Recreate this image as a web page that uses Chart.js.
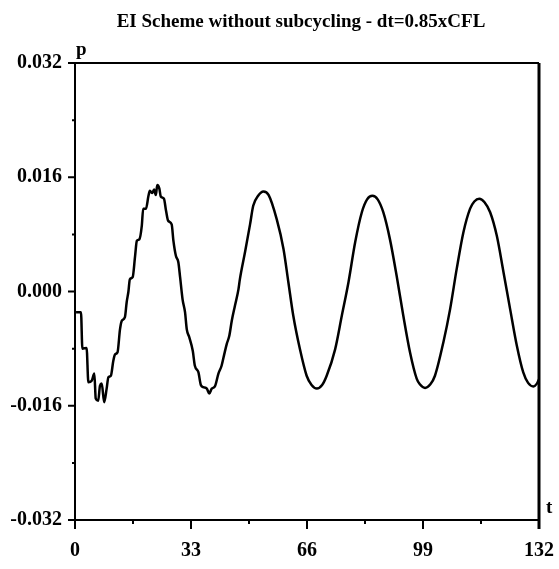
<!DOCTYPE html>
<html><head><meta charset="utf-8">
<script src="https://cdn.jsdelivr.net/npm/chart.js@4/dist/chart.umd.min.js"></script>
<style>html,body{margin:0;padding:0;background:#fff}#wrap{width:559px;height:569px;position:relative}</style>
</head><body><div id="wrap"><canvas id="c" width="559" height="569"></canvas></div>
<script>
const chartTitle = 'EI Scheme without subcycling - dt=0.85xCFL';
const xAxisName = 't';
const yAxisName = 'p';
const xTickLabels = [0, 33, 66, 99, 132];
const yTickLabels = [-0.032, -0.016, 0.000, 0.016, 0.032];
const xMinorTicks = [16.5, 49.5, 82.5, 115.5];
const yMinorTicks = [-0.024, -0.008, 0.008, 0.024];

const tValues = [
  0.3, 1.7, 2.1, 3.3, 3.8, 4.75, 5.5, 5.9, 6.6, 7.1, 7.6, 8.3, 9.0, 9.5, 10.2, 10.9, 11.4, 12.1, 12.8, 13.3,
  14.2, 14.7, 15.2, 15.6, 16.4, 17.1, 17.6, 18.3, 19.0, 19.4, 20.2, 20.9, 21.3, 22.0, 22.5, 23.0, 23.4, 24.0,
  24.4, 25.3, 25.9, 26.5, 27.5, 28.0, 28.7, 29.4, 29.9, 30.6, 31.3, 31.8, 32.5, 33.5, 34.1, 35.1, 35.8, 36.5,
  37.5, 38.2, 38.9, 39.8, 40.8, 41.7, 42.5, 43.2, 43.9, 44.6, 45.5, 46.5, 46.9, 48.4, 49.8, 50.7, 52.1, 53.6,
  55.1, 57.4, 59.3, 60.7, 62.1, 64.0, 65.9, 67.3, 68.8, 70.3, 71.6, 74.0, 75.9, 77.8, 79.7, 81.6, 83.1, 84.6,
  86.1, 87.7, 89.6, 91.5, 93.4, 95.3, 97.2, 98.1, 99.6, 101.1, 102.4, 104.8, 106.7, 108.6, 110.5, 112.4, 113.6,
  115.0, 116.5, 118.1, 120.0, 121.9, 123.8, 125.7, 127.5, 128.9, 130.4, 131.4, 132.0
];
const pValues = [
  -0.0029, -0.0029, -0.0080, -0.0079, -0.0127, -0.0125, -0.0115, -0.0150, -0.0153, -0.0132, -0.0129, -0.0155,
  -0.0136, -0.0120, -0.0118, -0.0097, -0.0088, -0.0085, -0.0053, -0.0041, -0.0036, -0.0015, 0.0000, 0.0017,
  0.0020, 0.0050, 0.0071, 0.0073, 0.0092, 0.0116, 0.0116, 0.0134, 0.0141, 0.0138, 0.0143, 0.0135, 0.0149,
  0.0144, 0.0133, 0.0130, 0.0113, 0.0099, 0.0094, 0.0071, 0.0050, 0.0041, 0.0020, -0.0011, -0.0029, -0.0053,
  -0.0064, -0.0083, -0.0104, -0.0113, -0.0131, -0.0134, -0.0136, -0.0143, -0.0136, -0.0133, -0.0115, -0.0104,
  -0.0087, -0.0073, -0.0062, -0.0041, -0.0020, 0.0003, 0.0017, 0.0056, 0.0094, 0.0120, 0.0134, 0.0140,
  0.0135, 0.0101, 0.0060, 0.0013, -0.0034, -0.0081, -0.0118, -0.0131, -0.0136, -0.0131, -0.0118, -0.0081,
  -0.0034, 0.0013, 0.0069, 0.0111, 0.0129, 0.0134, 0.0129, 0.0111, 0.0073, 0.0022, -0.0034, -0.0085,
  -0.0122, -0.0130, -0.0135, -0.0130, -0.0118, -0.0071, -0.0025, 0.0032, 0.0083, 0.0116, 0.0126, 0.0130,
  0.0125, 0.0111, 0.0078, 0.0027, -0.0025, -0.0076, -0.0113, -0.0128, -0.0133, -0.0129, -0.0123
];

const points = tValues.map((t, i) => ({ x: t, y: pValues[i] }));
const labelFont = { family: 'Liberation Serif', size: 20, weight: 'bold' };

const framePlugin = {
  id: 'frame',
  afterDraw(chart) {
    const ctx = chart.ctx;
    const a = chart.chartArea;
    const xs = chart.scales.x, ys = chart.scales.y;
    ctx.save();
    ctx.strokeStyle = '#000';
    ctx.lineCap = 'butt';
    ctx.lineWidth = 2;
    ctx.beginPath();
    ctx.moveTo(a.left, a.top); ctx.lineTo(a.left, a.bottom + 1);
    ctx.moveTo(a.left - 1, a.bottom); ctx.lineTo(a.right, a.bottom);
    ctx.moveTo(a.left - 7, a.top); ctx.lineTo(a.right, a.top);
    ctx.stroke();
    ctx.lineWidth = 3;
    ctx.beginPath();
    ctx.moveTo(a.right, a.top); ctx.lineTo(a.right, a.bottom + 9);
    ctx.stroke();
    ctx.lineWidth = 2;
    ctx.beginPath();
    xTickLabels.forEach(v => { const px = xs.getPixelForValue(v); ctx.moveTo(px, a.bottom); ctx.lineTo(px, a.bottom + 9); });
    xMinorTicks.forEach(v => { const px = xs.getPixelForValue(v); ctx.moveTo(px, a.bottom); ctx.lineTo(px, a.bottom + 4); });
    yTickLabels.forEach(v => { const py = ys.getPixelForValue(v); ctx.moveTo(a.left - 7, py); ctx.lineTo(a.left, py); });
    yMinorTicks.forEach(v => { const py = ys.getPixelForValue(v); ctx.moveTo(a.left - 3, py); ctx.lineTo(a.left, py); });
    ctx.stroke();
    ctx.fillStyle = '#000';
    ctx.font = 'bold 19px "Liberation Serif"';
    ctx.textAlign = 'center';
    ctx.textBaseline = 'alphabetic';
    ctx.fillText(chartTitle, 301, 27);
    ctx.font = 'bold 19px "Liberation Serif"';
    ctx.textAlign = 'left';
    ctx.fillText(yAxisName, a.left + 1, 55);
    ctx.fillText(xAxisName, a.right + 7, 513);
    ctx.restore();
  }
};

new Chart(document.getElementById('c'), {
  type: 'line',
  data: {
    datasets: [{
      data: points,
      borderColor: '#000',
      borderWidth: 2.5,
      pointRadius: 0,
      cubicInterpolationMode: 'monotone',
      fill: false
    }]
  },
  options: {
    responsive: false,
    devicePixelRatio: 1,
    animation: false,
    layout: { padding: { top: 63, right: 20, left: 0, bottom: 0 } },
    plugins: { legend: { display: false }, tooltip: { enabled: false }, title: { display: false } },
    scales: {
      x: {
        type: 'linear', min: 0, max: 132,
        afterBuildTicks: s => { s.ticks = xTickLabels.map(v => ({ value: v })); },
        afterFit: s => { s.height = 49; s.paddingLeft = 0; s.paddingRight = 0; },
        grid: { display: false, drawTicks: false },
        border: { display: false },
        ticks: { font: labelFont, color: '#000', padding: 19, maxRotation: 0, autoSkip: false, callback: v => String(v) }
      },
      y: {
        type: 'linear', min: -0.032, max: 0.032,
        afterBuildTicks: s => { s.ticks = yTickLabels.map(v => ({ value: v })); },
        afterFit: s => { s.width = 75; s.paddingTop = 0; s.paddingBottom = 0; },
        grid: { display: false, drawTicks: false },
        border: { display: false },
        ticks: { font: labelFont, color: '#000', padding: 13, autoSkip: false, callback: v => (v < 0 ? '-' : '') + Math.abs(v).toFixed(3) }
      }
    }
  },
  plugins: [framePlugin]
});
</script>
</body></html>
